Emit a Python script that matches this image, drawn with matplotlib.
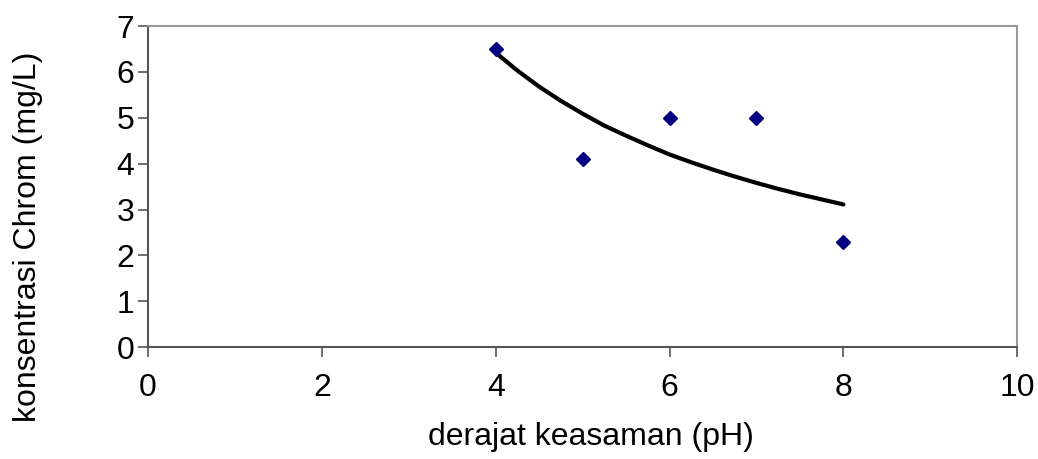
import matplotlib
matplotlib.use("Agg")
from matplotlib import pyplot as plt

# data points
ph = [4, 5, 6, 7, 8]
chrom = [6.5, 4.1, 5.0, 5.0, 2.3]

# trendline values
trend_x = [4, 4.25, 4.5, 4.75, 5, 5.25, 5.5, 5.75, 6,
           6.25, 6.5, 6.75, 7, 7.25, 7.5, 7.75, 8]
trend_y = [6.42, 6.03, 5.68, 5.37, 5.09, 4.83, 4.61, 4.40, 4.20,
           4.03, 3.87, 3.72, 3.58, 3.45, 3.33, 3.22, 3.11]

plt.rcParams["font.family"] = ["Liberation Sans", "DejaVu Sans"]

fig = plt.figure(figsize=(10.38, 4.59), dpi=100)
ax = fig.add_axes([0.1426, 0.244, 0.8374, 0.699])

ax.plot(trend_x, trend_y, "k-", linewidth=3, solid_capstyle="round", zorder=2)
ax.plot(ph, chrom, "D", color="#000080", markersize=7, linestyle="none", zorder=3)

ax.set_xlim(0, 10)
ax.set_ylim(0, 7)
ax.set_xticks([0, 2, 4, 6, 8, 10])
ax.set_yticks(range(0, 8))

for s in ["left", "bottom"]:
    ax.spines[s].set_color("#555555")
    ax.spines[s].set_linewidth(1.5)
for s in ["top", "right"]:
    ax.spines[s].set_color("#999999")
    ax.spines[s].set_linewidth(1.5)

ax.tick_params(direction="out", length=7, width=1.2, color="#555555",
               labelsize=23)
ax.tick_params(axis="x", pad=12)
ax.tick_params(axis="y", pad=3)

ax.set_xlabel("derajat keasaman (pH)", fontsize=23, va="center")
ax.set_ylabel("konsentrasi Chrom (mg/L)", fontsize=23, va="center")
ax.xaxis.set_label_coords(0.509, -0.28)
ax.yaxis.set_label_coords(-0.138, 0.345)

plt.savefig("out.png")
plt.close()
